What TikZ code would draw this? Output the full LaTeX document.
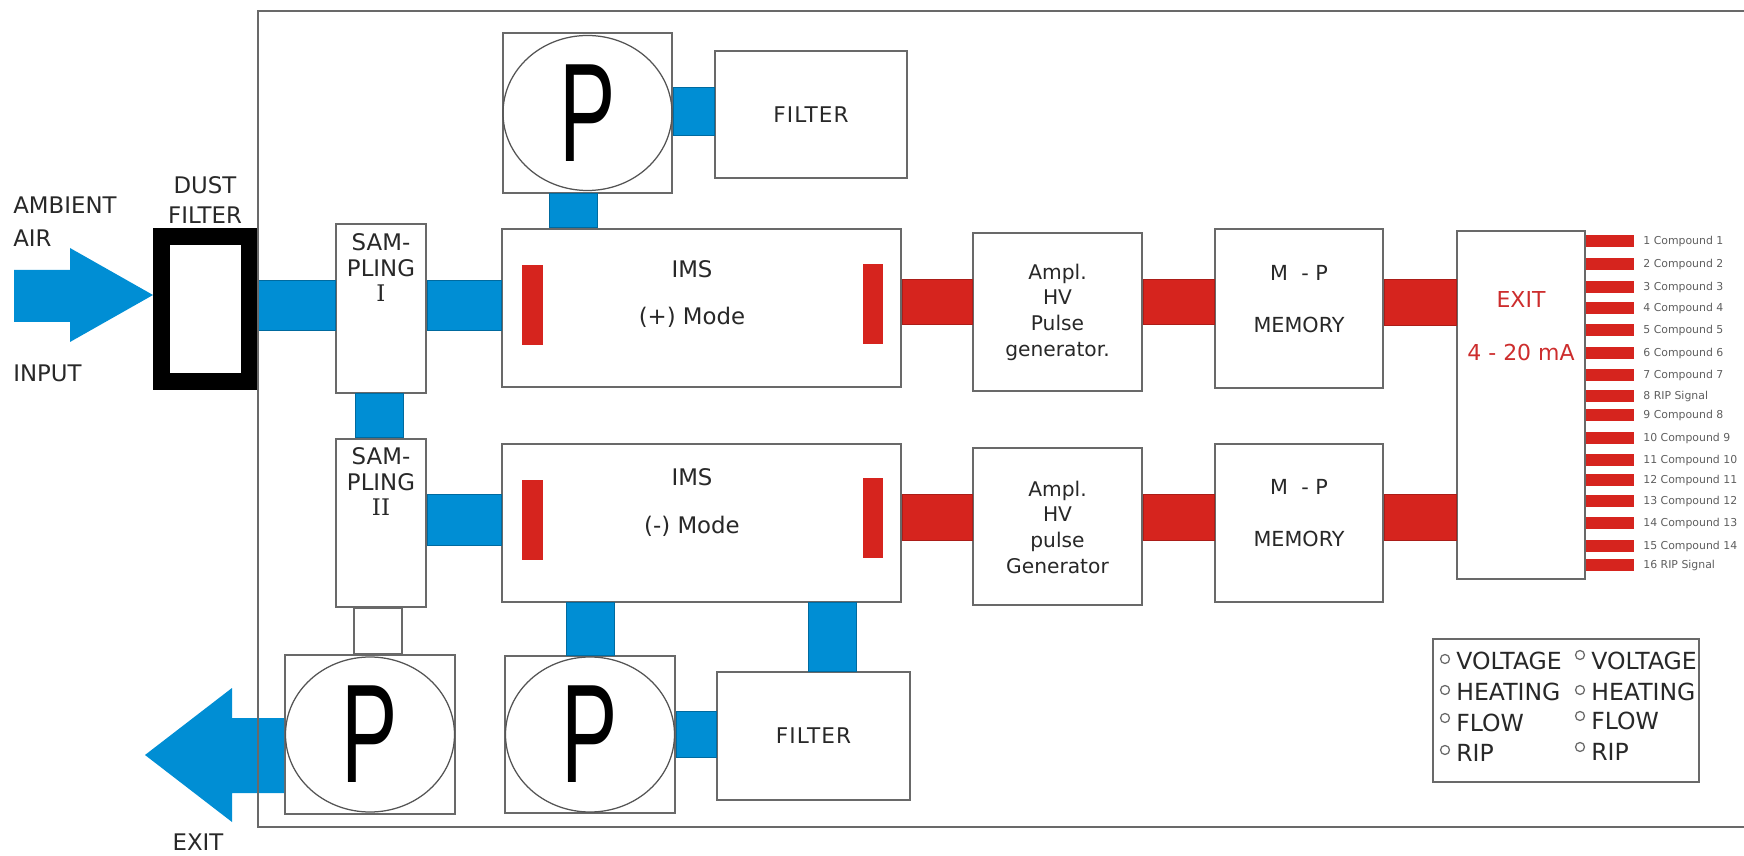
\documentclass[tikz,border=0pt]{standalone}
\usepackage{fontspec}
\setmainfont{DejaVu Sans}
\newfontfamily\widefont[LetterSpace=5]{DejaVu Sans}
\newfontfamily\pfont{Liberation Sans}
\newfontfamily\romfont{DejaVu Serif}
\usetikzlibrary{calc}
\definecolor{pipeblue}{RGB}{0,142,212}
\definecolor{pipered}{RGB}{214,36,30}
\definecolor{boxgray}{RGB}{105,105,105}
\definecolor{txtgray}{RGB}{40,40,40}
\definecolor{exitred}{RGB}{205,45,45}
\tikzset{
  box/.style={draw=boxgray, line width=0.4mm, fill=white, inner sep=0pt},
  sz/.style 2 args={minimum width=#1*0.2mm, minimum height=#2*0.2mm},
  pump/.style={box, font=\pfont\fontsize{80}{80}\selectfont},
  pumpring/.style={draw=boxgray!80!black, line width=0.25mm},
  bpipe/.style={fill=pipeblue, draw=pipeblue!75!black, line width=0.2mm},
  rpipe/.style={fill=pipered, draw=pipered!80!black, line width=0.2mm},
  rbar/.style={fill=pipered},
  lbl/.style={text=txtgray, align=center, inner sep=0pt, font=\fontsize{11.5}{14.6}\selectfont},
  filt/.style={box, lbl, font=\widefont\fontsize{12.3}{14}\selectfont},
  biglbl/.style={text=txtgray, inner sep=0pt, font=\fontsize{13}{18.5}\selectfont},
  cmp/.style={text=txtgray!75, inner sep=0pt, anchor=west, font=\fontsize{6.2}{7}\selectfont},
  leg/.style={text=txtgray, inner sep=0pt, anchor=west, font=\fontsize{13.4}{15}\selectfont},
}
\newcommand{\pumpP}{\scalebox{0.6}[1]{P}}

\begin{document}
\begin{tikzpicture}[x=0.2mm, y=-0.2mm]
  \useasboundingbox (0,0) rectangle (1744,856);
  % blocks
  \node[box, draw=black, line width=3.4mm, sz={88}{145}] (dust) at (205.5,309) {};
  \node[box, sz={90}{169}] (samp1) at (381,308.5) {};
  \node[box, sz={90}{168}] (samp2) at (381,523) {};
  \node[box, sz={399}{158}] (ims1) at (701.5,308) {};
  \node[box, sz={399}{158}] (ims2) at (701.5,523) {};
  \node[box, lbl, sz={169}{158}] (ampl1) at (1057.5,312) {Ampl.\\HV\\Pulse\\generator.};
  \node[box, lbl, sz={169}{157}] (ampl2) at (1057.5,527) {Ampl.\\HV\\pulse\\Generator};
  \node[box, sz={168}{159}] (mp1) at (1299,308.5) {};
  \node[box, sz={168}{158}] (mp2) at (1299,523) {};
  \node[box, sz={128}{348}] (exitbox) at (1521,405) {};
  \node[filt, sz={192}{127}] (filtA) at (811,114.5) {FILTER};
  \node[filt, sz={193}{128}] (filtB) at (813.5,736) {FILTER};
  \node[box, sz={266}{143}] (legend) at (1566,710.5) {};
  % pumps
  \node[pump, sz={169}{160}] (pumpA) at (587.5,113) {\pumpP};
  \node[pump, sz={170}{157}] (pumpB) at (590,734.5) {\pumpP};
  \node[pump, sz={170}{159}] (pumpC) at (370,734.5) {\pumpP};
  \foreach \p in {pumpA,pumpB,pumpC}
    \draw[pumpring] (\p.center) ellipse [x radius=84.5, y radius=77.5];
  % air path
  \fill[pipeblue] (14,270) -- (70,270) -- (70,248) -- (dust.west |- 0,295)
    -- (70,342) -- (70,322) -- (14,322) -- cycle;
  \filldraw[bpipe] (dust.east |- 0,281) rectangle (samp1.west |- 0,331);
  \filldraw[bpipe] (samp1.east |- 0,281) rectangle (ims1.west |- 0,331);
  \filldraw[bpipe] (355,0 |- samp1.south) rectangle (403,0 |- samp2.north);
  \filldraw[bpipe] (samp2.east |- 0,495) rectangle (ims2.west |- 0,546);
  \filldraw[box] (354,0 |- samp2.south) rectangle (402,0 |- pumpC.north);
  \filldraw[bpipe] (pumpA.east |- 0,88) rectangle (filtA.west |- 0,136);
  \filldraw[bpipe] (549,0 |- pumpA.south) rectangle (597,0 |- ims1.north);
  \filldraw[bpipe] (566,0 |- ims2.south) rectangle (614,0 |- pumpB.north);
  \filldraw[bpipe] (pumpB.east |- 0,711) rectangle (filtB.west |- 0,757);
  \filldraw[bpipe] (808,0 |- ims2.south) rectangle (856,0 |- filtB.north);
  \fill[pipeblue] (pumpC.west |- 0,718) -- (232,718) -- (232,688) -- (145,755)
    -- (232,822) -- (232,793) -- (pumpC.west |- 0,793) -- cycle;
  % signal path
  \filldraw[rpipe] (ims1.east |- 0,280) rectangle (ampl1.west |- 0,325);
  \filldraw[rpipe] (ampl1.east |- 0,280) rectangle (mp1.west |- 0,325);
  \filldraw[rpipe] (mp1.east |- 0,280) rectangle (exitbox.west |- 0,326);
  \filldraw[rpipe] (ims2.east |- 0,495) rectangle (ampl2.west |- 0,541);
  \filldraw[rpipe] (ampl2.east |- 0,495) rectangle (mp2.west |- 0,541);
  \filldraw[rpipe] (mp2.east |- 0,495) rectangle (exitbox.west |- 0,541);
  % electrodes
  \fill[rbar] (522,265) rectangle (543,345);
  \fill[rbar] (863,264) rectangle (883,344);
  \fill[rbar] (522,480) rectangle (543,560);
  \fill[rbar] (863,478) rectangle (883,558);
  % texts
  \node[biglbl, anchor=west, align=left] (ambient) at (13,221.5) {AMBIENT\\AIR};
  \node[biglbl, anchor=west] (input) at (13,373) {INPUT};
  \node[biglbl, align=center, font=\fontsize{13}{17}\selectfont] (dustt) at (205,200) {DUST\\FILTER};
  \node[biglbl] (exitt) at (198,842) {EXIT};
  \node[lbl, font=\fontsize{13}{14.5}\selectfont] (samp1t) at (381,268) {SAM-\\PLING\\{\romfont I}};
  \node[lbl, font=\fontsize{13}{14.5}\selectfont] (samp2t) at (381,482) {SAM-\\PLING\\{\romfont II}};
  \node[lbl, font=\fontsize{13}{27}\selectfont] (ims1t) at (692,294) {IMS\\(+) Mode};
  \node[lbl, font=\fontsize{13}{27}\selectfont] (ims2t) at (692,502.5) {IMS\\(-) Mode};
  \node[lbl, font=\fontsize{11.8}{29.5}\selectfont] (mp1t) at (1299,299) {M\ \ - P\\MEMORY};
  \node[lbl, font=\fontsize{11.8}{29.5}\selectfont] (mp2t) at (1299,513.5) {M\ \ - P\\MEMORY};
  \node[lbl, text=exitred, font=\fontsize{12.5}{30}\selectfont] (exitboxt) at (1521,326.5) {EXIT\\4 - 20 mA};
  % outputs
  \foreach \y/\t [count=\i] in {241/1 Compound 1, 264/2 Compound 2, 287/3 Compound 3,
      308/4 Compound 4, 330/5 Compound 5, 353/6 Compound 6, 375/7 Compound 7,
      396/8 RIP Signal, 415/9 Compound 8, 438/10 Compound 9, 460/11 Compound 10,
      480/12 Compound 11, 501/13 Compound 12, 523/14 Compound 13, 546/15 Compound 14,
      565/16 RIP Signal}{
    \fill[rbar] (exitbox.east |- 0,\y) ++(0,-6) rectangle ++(48,12);
    \node[cmp] (cmp\i) at (1643,\y) {\t};
  }
  % legend
  \foreach \x/\y/\c/\t [count=\i] in {1445/661/659/VOLTAGE, 1445/692/690/HEATING,
      1445/723/718/FLOW, 1445/753/750/RIP, 1580/661/655/VOLTAGE, 1580/692/690/HEATING,
      1580/721/716/FLOW, 1580/752/747/RIP}{
    \draw[boxgray, line width=0.25mm] (\x,\c) circle [radius=4.5];
    \node[leg] (leg\i) at (\x+11,\y) {\t};
  }
  % housing
  \draw[boxgray, line width=0.4mm] (1744,11) -- (258,11) -- (258,827) -- (1744,827);
\end{tikzpicture}
\end{document}
